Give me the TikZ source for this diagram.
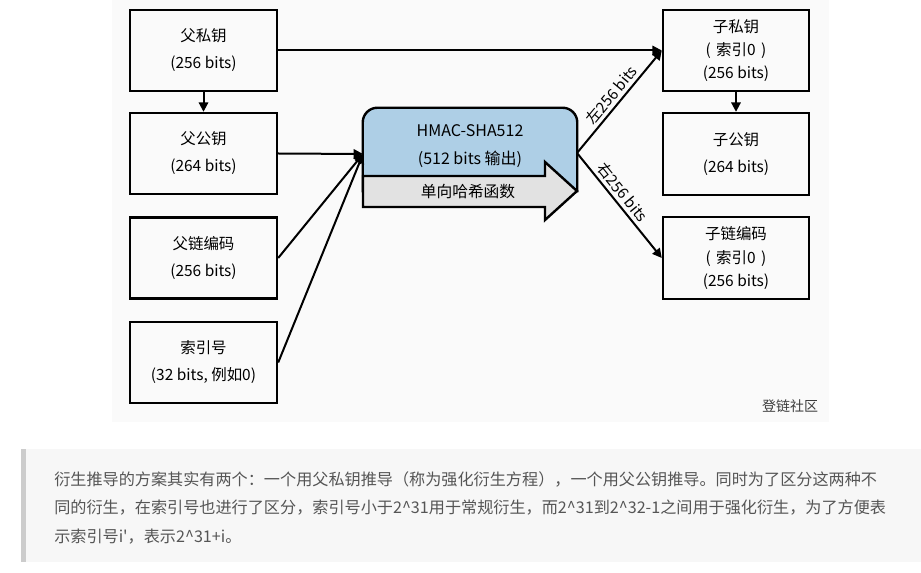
\documentclass[tikz,border=0pt]{standalone}
\usepackage{fontspec}
\setmainfont{Noto Sans CJK SC}[Ligatures=TeXOff]
\usetikzlibrary{arrows.meta,calc}
\definecolor{panelbg}{RGB}{250,250,250}
\definecolor{quotebg}{RGB}{247,247,247}
\definecolor{quotebar}{RGB}{204,204,204}
\definecolor{quotetext}{RGB}{85,85,85}
\definecolor{hmacblue}{RGB}{174,207,230}
\definecolor{arrowgray}{RGB}{226,226,226}
\definecolor{wmcol}{RGB}{60,60,60}
\begin{document}
\begin{tikzpicture}[x=0.75pt,y=-0.75pt,
  box/.style={draw, line width=1.8pt, minimum width=110.25pt, minimum height=60.75pt,
    align=center, inner sep=0pt, font=\fontsize{11.6pt}{20.25pt}\selectfont},
  box3/.style={box, font=\fontsize{11.6pt}{17.6pt}\selectfont},
  conn/.style={line width=1.5pt, -{Triangle[length=7pt,width=7pt]}},
  edgelabel/.style={sloped, above, inner sep=2pt, font=\fontsize{11.4pt}{12pt}\selectfont},
  quoteline/.style={anchor=west, inner sep=0pt, text=quotetext, font=\fontsize{12.1pt}{14pt}\selectfont}
]
\useasboundingbox (0,0) rectangle (921,573);
\fill[white] (0,0) rectangle (921,573);
\fill[panelbg] (112,0) rectangle (829,422);
\fill[quotebg] (21,449) rectangle (921,562);
\fill[quotebar] (21,449) rectangle (26,562);

% left boxes
\node[box] (p1) at (203.5,50.5) {父私钥\\(256 bits)};
\node[box] (p2) at (203.5,153.5) {父公钥\\(264 bits)};
\node[box] (p3) at (203.5,258) {父链编码\\(256 bits)};
\node[box] (p4) at (203.5,362.5) {索引号\\(32 bits, 例如0)};

% right boxes
\node[box3, minimum width=109.5pt] (c1) at (736,50.5) {子私钥\\(\kern4pt 索引0\kern4pt)\\(256 bits)};
\node[box, minimum width=109.5pt, minimum height=61.5pt] (c2) at (736,154) {子公钥\\(264 bits)};
\node[box3, minimum width=109.5pt, minimum height=61.5pt] (c3) at (736,258) {子链编码\\(\kern4pt 索引0\kern4pt)\\(256 bits)};

% HMAC block
\node[minimum width=160.5pt, minimum height=62.25pt, inner sep=0pt] (hmac) at (470,149.5) {};
\draw[line width=1.8pt, fill=hmacblue] (hmac.south west) [rounded corners=11pt] -- (hmac.north west) -- (hmac.north east) [sharp corners] -- (hmac.south east) -- cycle;
\draw[line width=1.8pt, fill=arrowgray, line join=miter] (363,176) -- (545,176) -- (545,162) -- (577,191) -- (545,220) -- (545,207) -- (363,207) -- cycle;
\node[align=center, font=\fontsize{12pt}{21pt}\selectfont] (hmactext) at (470,146) {HMAC-SHA512\\(512 bits 输出)};
\node[font=\fontsize{11.8pt}{14pt}\selectfont] (hash) at (468,191.5) {单向哈希函数};

\coordinate (hin) at (363,154);
\coordinate (hout) at (577,153);

% connectors
\draw[conn] (p1.east) -- (c1.west);
\draw[conn] (p1.south) -- (p2.north);
\draw[conn] (p2.east) -- (hin);
\draw[conn] (p3.east) -- (hin);
\draw[conn] (p4.east) -- (hin);
\draw[conn] (hout) -- node[edgelabel, pos=0.5] {左256 bits} (c1.west);
\draw[conn] (hout) -- node[edgelabel, pos=0.44] {右256 bits} (c3.west);
\draw[conn] (c1.south) -- (c2.north);

% watermark
\node[text=wmcol, font=\fontsize{10.5pt}{12pt}\selectfont] (wm) at (790,406) {登链社区};

% quote text
\node[quoteline] (q1) at (54,479) {衍生推导的方案其实有两个：一个用父私钥推导（称为强化衍生方程），一个用父公钥推导。同时为了区分这两种不};
\node[quoteline] (q2) at (54,508) {同的衍生，在索引号也进行了区分，索引号小于2\textasciicircum31用于常规衍生，而2\textasciicircum31到2\textasciicircum32-1之间用于强化衍生，为了方便表};
\node[quoteline] (q3) at (54,537) {示索引号i'，表示2\textasciicircum31+i。};
\end{tikzpicture}
\end{document}
